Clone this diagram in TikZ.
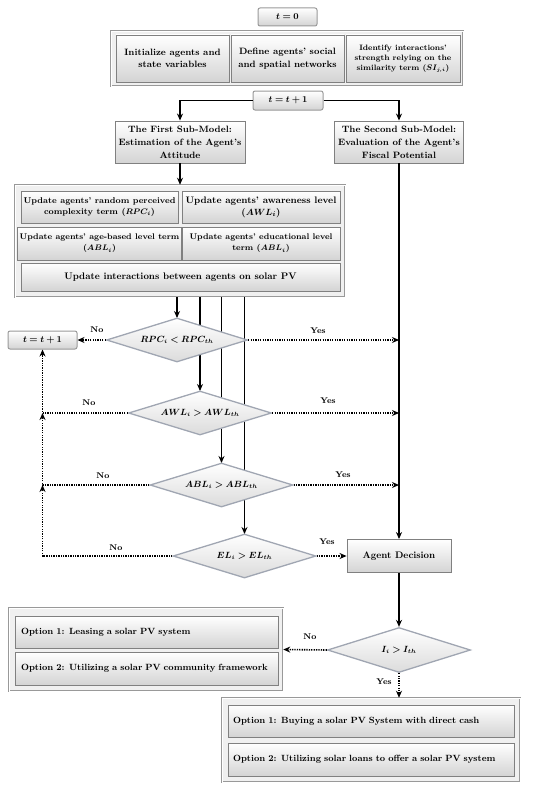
\documentclass[tikz,border=0pt]{standalone}
\usepackage{bm}
\usetikzlibrary{shapes.geometric,arrows.meta}
\definecolor{diaedge}{RGB}{160,166,178}
\begin{document}
\begin{tikzpicture}[x=1pt,y=-1pt,
  cont/.style={draw=black!40, line width=0.5pt, double=white, double distance=0.9pt, fill=black!6, inner sep=0pt},
  box/.style={draw=black!50, line width=0.9pt, top color=white, bottom color=black!17, inner sep=2pt, align=center, font=\bfseries\fontsize{9}{11}\selectfont},
  rbox/.style={box, rounded corners=2pt, draw=black!40, line width=1pt},
  obox/.style={box, align=left, font=\bfseries\fontsize{9}{11}\selectfont},
  dia/.style={diamond, aspect=3.2, draw=diaedge, line width=1.3pt, top color=white, bottom color=black!14, inner sep=0pt, font=\fontsize{9}{11}\selectfont},
  arr/.style={line width=1.3pt, -{Stealth[length=7pt,width=6pt]}},
  darr/.style={line width=1.6pt, dash pattern=on 1.3pt off 1.1pt, -{Stealth[length=7pt,width=6pt]}},
  lab/.style={font=\bfseries\fontsize{8.3}{9}\selectfont, inner sep=1pt}
]
\useasboundingbox (0,0) rectangle (550,792);

% top
\node[rbox, minimum width=59pt, minimum height=18pt] (t0) at (287.5,17) {$\bm{t=0}$};
\node[cont, minimum width=352pt, minimum height=55pt] (c1) at (287,58.5) {};
\node[box, minimum width=113pt, minimum height=47pt, font=\bfseries\fontsize{9.2}{12.5}\selectfont] (b1) at (172.5,58.5) {Initialize agents and\\state variables};
\node[box, minimum width=113pt, minimum height=47pt, font=\bfseries\fontsize{9.2}{12.5}\selectfont] (b2) at (287.5,58.5) {Define agents’ social\\and spatial networks};
\node[box, minimum width=114pt, minimum height=47pt, font=\bfseries\fontsize{7.8}{10}\selectfont] (b3) at (403,58.5) {Identify interactions’\\strength relying on the\\similarity term ($\bm{SI_{j,i}}$)};

\node[rbox, minimum width=70pt, minimum height=19pt] (tt1) at (288,100.5) {$\bm{t=t+1}$};

\node[box, minimum width=130pt, minimum height=42pt, inner sep=1pt, font=\bfseries\fontsize{9.2}{13}\selectfont] (s1) at (180,142) {The First Sub-Model:\\Estimation of the Agent’s\\Attitude};
\node[box, minimum width=129pt, minimum height=42pt, inner sep=1pt, font=\bfseries\fontsize{9.2}{13}\selectfont] (s2) at (399,142) {The Second Sub-Model:\\Evaluation of the Agent’s\\Fiscal Potential};

\draw[arr] (tt1.west) -| (s1.north);
\draw[arr] (tt1.east) -| (s2.north);

% second container
\node[cont, minimum width=330pt, minimum height=112pt] (c2) at (180,241) {};
\node[box, minimum width=157pt, minimum height=32pt, font=\bfseries\fontsize{8.4}{11}\selectfont] (u1) at (99.5,207) {Update agents’ random perceived\\complexity term ($\bm{RPC_i}$)};
\node[box, minimum width=158pt, minimum height=32pt, font=\bfseries\fontsize{9.4}{12}\selectfont] (u2) at (261,207) {Update agents’ awareness level\\($\bm{AWL_i}$)};
\node[box, minimum width=157pt, minimum height=33pt, font=\bfseries\fontsize{8.2}{11}\selectfont] (u3) at (99.5,243.5) {Update agents’ age-based level term\\($\bm{ABL_i}$)};
\node[box, minimum width=158pt, minimum height=33pt, font=\bfseries\fontsize{8.2}{11}\selectfont] (u4) at (261,243.5) {Update agents’ educational level\\term ($\bm{ABL_i}$)};
\node[box, minimum width=319pt, minimum height=28pt, font=\bfseries\fontsize{9.5}{11}\selectfont] (u5) at (180.5,277) {Update interactions between agents on solar PV};

\draw[arr] (s1.south) -- (c2.north);

% vertical lines behind diamonds
\coordinate (d1n) at (177,318);
\coordinate (d2n) at (200,391);
\coordinate (d3n) at (221.5,463);
\coordinate (d4n) at (244.5,534);
\draw[arr] (c2.south -| d1n) -- (d1n);
\draw[arr] (c2.south -| d2n) -- (d2n);
\draw[arr] (c2.south -| d3n) -- (d3n);
\draw[arr] (c2.south -| d4n) -- (d4n);

% diamonds
\node[dia, minimum width=141pt, minimum height=44pt] (d1) at (177,340) {$\bm{RPC_i<RPC_{th}}$};
\node[dia, minimum width=143pt, minimum height=44pt] (d2) at (200,413) {$\bm{AWL_i>AWL_{th}}$};
\node[dia, minimum width=143pt, minimum height=44pt] (d3) at (221.5,485) {$\bm{ABL_i>ABL_{th}}$};
\node[dia, minimum width=143pt, minimum height=44pt] (d4) at (244.5,556) {$\bm{EL_i>EL_{th}}$};
\node[dia, minimum width=143pt, minimum height=45pt] (di) at (399,650) {$\bm{I_i>I_{th}}$};

\node[rbox, minimum width=69pt, minimum height=18pt] (tl) at (42.5,340) {$\bm{t=t+1}$};
\node[box, minimum width=104pt, minimum height=33pt, font=\bfseries\fontsize{9.5}{11}\selectfont] (ad) at (399,556) {Agent Decision};

\draw[arr] (s2.south) -- (ad.north);
\draw[arr] (ad.south) -- (di.north);

% No branches
\draw[darr] (d1.west) -- (tl.east);
\draw[darr] (d2.west) -- (tl.south |- d2.west) -- (tl.south);
\draw[darr] (d3.west) -- (tl.south |- d3.west) -- (tl.south |- d2.west);
\draw[darr] (d4.west) -- (tl.south |- d4.west) -- (tl.south |- d3.west);

% Yes branches
\draw[darr] (d1.east) -- (d1.east -| ad.north);
\draw[darr] (d2.east) -- (d2.east -| ad.north);
\draw[darr] (d3.east) -- (d3.east -| ad.north);
\draw[darr] (d4.east) -- (ad.west);

\node[lab] (n1) at (97,330) {No};
\node[lab] (y1) at (318,331) {Yes};
\node[lab] (n2) at (89,403) {No};
\node[lab] (y2) at (328,401) {Yes};
\node[lab] (n3) at (103,476) {No};
\node[lab] (y3) at (343,475) {Yes};
\node[lab] (n4) at (116,548) {No};
\node[lab] (y4) at (327,542) {Yes};

% options
\node[cont, minimum width=274pt, minimum height=83pt] (cl) at (146,649.5) {};
\node[obox, minimum width=263pt, minimum height=32pt, text width=251pt] (o1) at (146.5,632) {Option 1: Leasing a solar PV system};
\node[obox, minimum width=263pt, minimum height=33pt, text width=251pt] (o2) at (146.5,668.5) {Option 2: Utilizing a solar PV community framework};

\node[cont, minimum width=298pt, minimum height=84pt] (cr) at (371,740) {};
\node[obox, minimum width=286pt, minimum height=32pt, text width=276pt] (r1) at (371,721) {Option 1: Buying a solar PV System with direct cash};
\node[obox, minimum width=286pt, minimum height=33pt, text width=276pt] (r2) at (371,759.5) {Option 2: Utilizing solar loans to offer a solar PV system};

\draw[darr] (di.west) -- (cl.east);
\draw[darr] (di.south) -- (cr.north -| di.south);
\node[lab] (n5) at (310,637) {No};
\node[lab] (y5) at (384,682) {Yes};
\end{tikzpicture}
\end{document}
